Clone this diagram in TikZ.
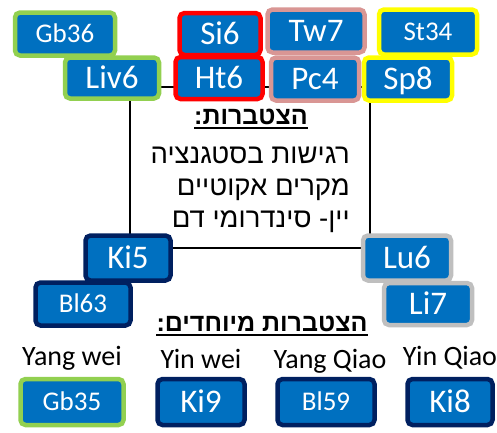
\documentclass[tikz,border=0pt]{standalone}
\usepackage{fontspec}
\setmainfont{Carlito}
\newfontfamily\hebfont[Script=Hebrew]{Liberation Sans}
\TeXXeTstate=1
\usepackage{tikz}
\usetikzlibrary{positioning}

\definecolor{ptblue}{RGB}{0,112,192}
\definecolor{ptgreen}{RGB}{146,208,80}
\definecolor{ptred}{RGB}{255,0,0}
\definecolor{ptpink}{RGB}{217,150,148}
\definecolor{ptyellow}{RGB}{255,255,0}
\definecolor{ptnavy}{RGB}{0,32,96}
\definecolor{ptgray}{RGB}{191,191,191}

\tikzset{
	point/.style={draw=#1, line width=4.5pt, fill=ptblue, rounded corners=5pt,
		text=white, inner sep=0pt, text height=21pt, text depth=0pt,
		font=\fontsize{33}{36}\selectfont},
	smallpt/.style={text height=17.5pt, font=\fontsize{27}{30}\selectfont},
	heb/.style={inner sep=0pt, font=\hebfont\fontsize{27.5}{30}\selectfont},
	hebtitle/.style={inner sep=0pt, font=\hebfont\bfseries\fontsize{25}{28}\selectfont},
	vessel/.style={inner sep=0pt, font=\fontsize{28}{30}\selectfont}
}

\begin{document}
\begin{tikzpicture}[x=1pt,y=-1pt]
	\useasboundingbox (0,0) rectangle (497,432);
	
	% Frame
	\draw[line width=1.5pt] (130,87) rectangle (370,248);
	
	% Top left
	\node[point=ptgreen, smallpt, minimum width=100pt, minimum height=43pt] (gb36) at (65,34) {Gb36};
	\node[point=ptgreen, minimum width=94pt, minimum height=41pt] (liv6) at (112,78) {Liv6};
	
	% Top middle
	\node[point=ptred, minimum width=81pt, minimum height=42pt] (si6) at (220,34) {Si6};
	\node[point=ptred, minimum width=87pt, minimum height=42pt] (ht6) at (219,78) {Ht6};
	\node[point=ptpink, minimum width=97pt, minimum height=43pt] (tw7) at (316,31) {Tw7};
	\node[point=ptpink, minimum width=88pt, minimum height=43pt] (pc4) at (315,79) {Pc4};
	
	% Top right
	\node[point=ptyellow, smallpt, minimum width=98pt, minimum height=45pt] (st34) at (428,32) {St34};
	\node[point=ptyellow, minimum width=88pt, minimum height=43pt] (sp8) at (408,79) {Sp8};
	
	% Text
	\node[hebtitle, anchor=base] (title) at (251,124) {\beginR הצטברות:\endR};
	\draw[line width=1.5pt] ([yshift=-4pt]title.base west) -- ([yshift=-4pt]title.base east);
	\node[heb, anchor=base east] (line1) at (350,163) {\beginR רגישות בסטגנציה\endR};
	\node[heb, anchor=base east] (line2) at (350,195) {\beginR מקרים אקוטיים\endR};
	\node[heb, anchor=base east] (line3) at (350,227) {\beginR יין- סינדרומי דם\endR};
	
	% Bottom left
	\node[point=ptnavy, minimum width=85pt, minimum height=45pt] (ki5) at (128,258) {Ki5};
	\node[point=ptnavy, smallpt, minimum width=95pt, minimum height=43pt] (bl63) at (83,304) {Bl63};
	
	% Bottom right
	\node[point=ptgray, minimum width=88pt, minimum height=45pt] (lu6) at (407,258) {Lu6};
	\node[point=ptgray, minimum width=88pt, minimum height=42pt] (li7) at (428,304) {Li7};
	
	% Special
	\node[hebtitle, anchor=base] (special) at (262,331) {\beginR הצטברות מיוחדים:\endR};
	\draw[line width=1.5pt] ([yshift=-4pt]special.base west) -- ([yshift=-4pt]special.base east);
	
	% Vessels
	\node[vessel, anchor=base] (yangwei) at (72,365) {Yang wei};
	\node[point=ptgreen, smallpt, minimum width=103pt, minimum height=46pt] (gb35) at (72,402) {Gb35};
	\node[vessel, anchor=base] (yinwei) at (201,368) {Yin wei};
	\node[point=ptnavy, minimum width=87pt, minimum height=46pt] (ki9) at (201,402) {Ki9};
	\node[vessel, anchor=base] (yangqiao) at (330,368) {Yang Qiao};
	\node[point=ptnavy, smallpt, minimum width=97pt, minimum height=46pt] (bl59) at (326,402) {Bl59};
	\node[vessel, anchor=base] (yinqiao) at (450,365) {Yin Qiao};
	\node[point=ptnavy, minimum width=85pt, minimum height=46pt] (ki8) at (450,402) {Ki8};
\end{tikzpicture}
\end{document}
